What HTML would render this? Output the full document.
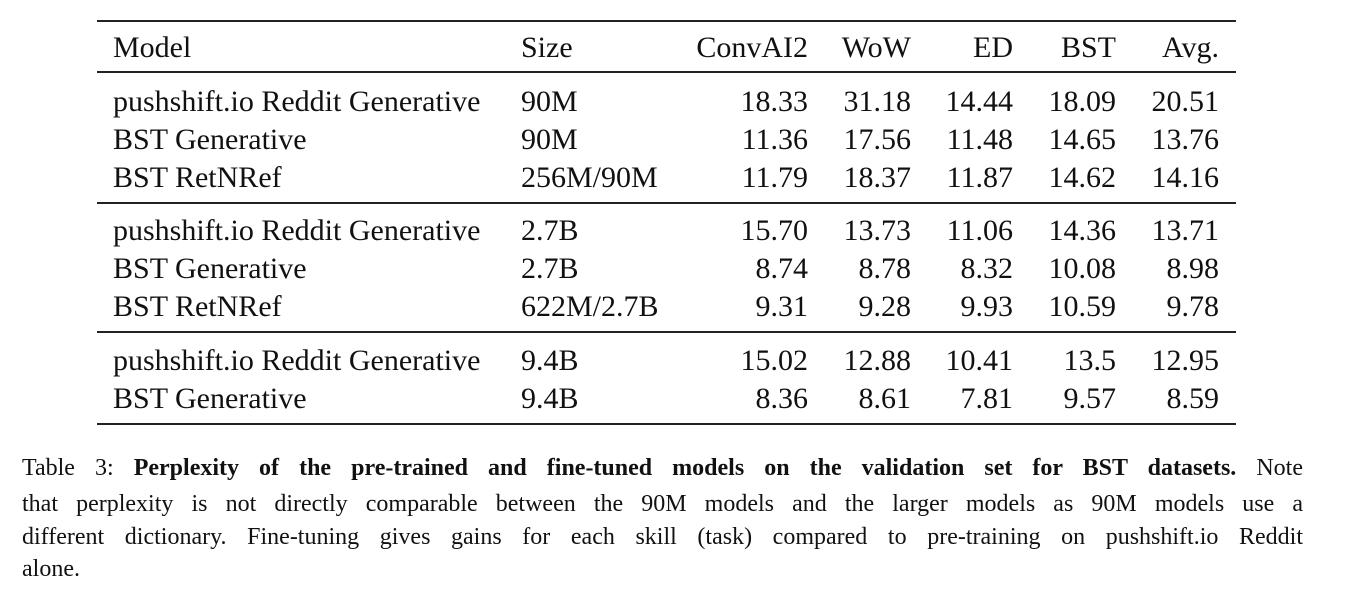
<!DOCTYPE html>
<html><head><meta charset="utf-8"><style>
body{margin:0;width:1371px;height:605px;background:#fff;position:relative;overflow:hidden;font-family:"Liberation Serif",serif;color:#111}
.r{position:absolute;left:97px;width:1139px;background:#222}
.c{position:absolute;font-size:30px;height:38px;line-height:38px;white-space:nowrap}
.n{text-align:right}
.cl{position:absolute;left:22px;width:1281px;font-size:24px;height:33px;line-height:33px;white-space:nowrap}
.j{text-align:justify;text-align-last:justify;white-space:normal}
</style></head><body>
<div class="r" style="top:20px;height:2px"></div>
<div class="r" style="top:71px;height:1.5px"></div>
<div class="r" style="top:202px;height:1.5px"></div>
<div class="r" style="top:331px;height:1.5px"></div>
<div class="r" style="top:423px;height:2px"></div>
<div id="t"></div>
<div>
<div class="cl j" style="top:452px">Table 3: <b>Perplexity of the pre-trained and fine-tuned models on the validation set for BST datasets.</b> Note</div>
<div class="cl j" style="top:488px">that perplexity is not directly comparable between the 90M models and the larger models as 90M models use a</div>
<div class="cl j" style="top:521px">different dictionary. Fine-tuning gives gains for each skill (task) compared to pre-training on pushshift.io Reddit</div>
<div class="cl" style="top:553px">alone.</div>
</div>
<script>
const headers=["Model","Size","ConvAI2","WoW","ED","BST","Avg."];
const models=["pushshift.io Reddit Generative","BST Generative","BST RetNRef","pushshift.io Reddit Generative","BST Generative","BST RetNRef","pushshift.io Reddit Generative","BST Generative"];
const sizes=["90M","90M","256M/90M","2.7B","2.7B","622M/2.7B","9.4B","9.4B"];
const convai2=["18.33","11.36","11.79","15.70","8.74","9.31","15.02","8.36"];
const wow=["31.18","17.56","18.37","13.73","8.78","9.28","12.88","8.61"];
const ed=["14.44","11.48","11.87","11.06","8.32","9.93","10.41","7.81"];
const bst=["18.09","14.65","14.62","14.36","10.08","10.59","13.5","9.57"];
const avg=["20.51","13.76","14.16","13.71","8.98","9.78","12.95","8.59"];
const rowY=[102,140,178,231,269,307,361,399];
const t=document.getElementById('t');
function cell(txt,y,left,right,name){
  const d=document.createElement('div');
  d.className='c'+(right?' n':'');
  
  
  d.style.top=(y-19)+'px';
  if(right){d.style.left=(right-200)+'px';d.style.width='200px';}else d.style.left=left+'px';
  d.textContent=txt;t.appendChild(d);
}
const rights=[808,911,1013,1116,1219];
cell(headers[0],48,113,0,'header-model');
cell(headers[1],48,521,0,'header-size');
for(let j=0;j<5;j++)cell(headers[j+2],48,0,rights[j],'header-'+headers[j+2].toLowerCase().replace('.',''));
const cols=[convai2,wow,ed,bst,avg];
for(let i=0;i<models.length;i++){
  cell(models[i],rowY[i],113,0,'model-name');
  cell(sizes[i],rowY[i],521,0,'model-size');
  for(let j=0;j<5;j++)cell(cols[j][i],rowY[i],0,rights[j],'value-cell');
}
</script>
</body></html>
